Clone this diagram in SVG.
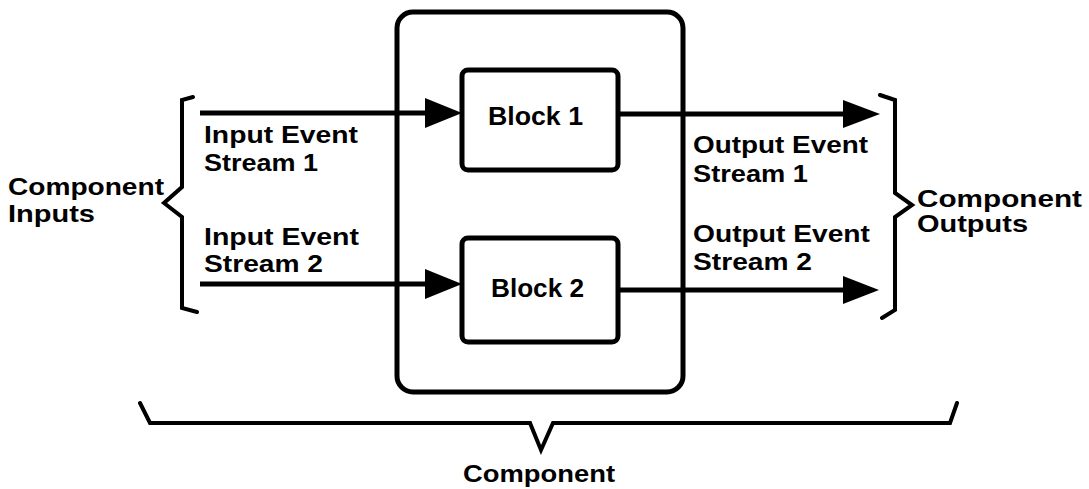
<svg xmlns="http://www.w3.org/2000/svg" width="1089" height="489" viewBox="0 0 1089 489">
<style>
.box{fill:none;stroke:#000;stroke-width:5}
.ln{fill:none;stroke:#000;stroke-width:5}
.br{fill:none;stroke:#000;stroke-width:4;stroke-linejoin:miter;stroke-linecap:round}
.ah{fill:#000}
text{font-family:"Liberation Sans",Arial,sans-serif;font-weight:bold;font-size:23px;fill:#000}
.blk{font-size:25px}
</style>
<rect width="1089" height="489" fill="#fff"/>
<g id="component">
<rect class="box" x="397" y="12" width="286" height="380" rx="16"/>
</g>
<g id="block1">
<rect class="box" x="462" y="70" width="156" height="100" rx="6"/>
<text class="blk" x="488" y="125" textLength="95" lengthAdjust="spacingAndGlyphs">Block 1</text>
</g>
<g id="block2">
<rect class="box" x="462" y="238" width="156" height="104" rx="6"/>
<text class="blk" x="491" y="297" textLength="93" lengthAdjust="spacingAndGlyphs">Block 2</text>
</g>
<g id="connectors">
<line class="ln" x1="200" y1="113" x2="430" y2="113"/>
<polygon class="ah" points="425,98 462,113 425,128"/>
<line class="ln" x1="200" y1="284" x2="430" y2="284"/>
<polygon class="ah" points="425,269 462,284 425,299"/>
<line class="ln" x1="618" y1="114" x2="848" y2="114"/>
<polygon class="ah" points="843,100 880,114 843,128"/>
<line class="ln" x1="618" y1="290" x2="848" y2="290"/>
<polygon class="ah" points="843,276 879,290 843,304"/>
</g>
<g id="labels-streams">
<text x="204" y="143" textLength="154" lengthAdjust="spacingAndGlyphs">Input Event</text>
<text x="204" y="171" textLength="114" lengthAdjust="spacingAndGlyphs">Stream 1</text>
<text x="204" y="245" textLength="155" lengthAdjust="spacingAndGlyphs">Input Event</text>
<text x="204" y="272" textLength="119" lengthAdjust="spacingAndGlyphs">Stream 2</text>
<text x="693" y="153" textLength="175" lengthAdjust="spacingAndGlyphs">Output Event</text>
<text x="693" y="182" textLength="115" lengthAdjust="spacingAndGlyphs">Stream 1</text>
<text x="693" y="242" textLength="177" lengthAdjust="spacingAndGlyphs">Output Event</text>
<text x="693" y="270" textLength="119" lengthAdjust="spacingAndGlyphs">Stream 2</text>
</g>
<g id="inputs-bracket">
<path class="br" d="M193,97 L182,100 L182,187 L164,203 L182,217 L182,308 L197,312"/>
<text x="8" y="195" textLength="156" lengthAdjust="spacingAndGlyphs">Component</text>
<text x="8" y="222" textLength="87" lengthAdjust="spacingAndGlyphs">Inputs</text>
</g>
<g id="outputs-bracket">
<path class="br" d="M880,95 L895,100 L895,193 L912,205 L895,217 L895,310 L882,318"/>
<text x="917" y="207" textLength="165" lengthAdjust="spacingAndGlyphs">Component</text>
<text x="917" y="232" textLength="111" lengthAdjust="spacingAndGlyphs">Outputs</text>
</g>
<g id="component-brace">
<path class="br" d="M140,403 L150,423 L530,423 L541,450 L553,423 L950,423 L957,403"/>
<text x="463" y="482" textLength="152" lengthAdjust="spacingAndGlyphs">Component</text>
</g>
</svg>
